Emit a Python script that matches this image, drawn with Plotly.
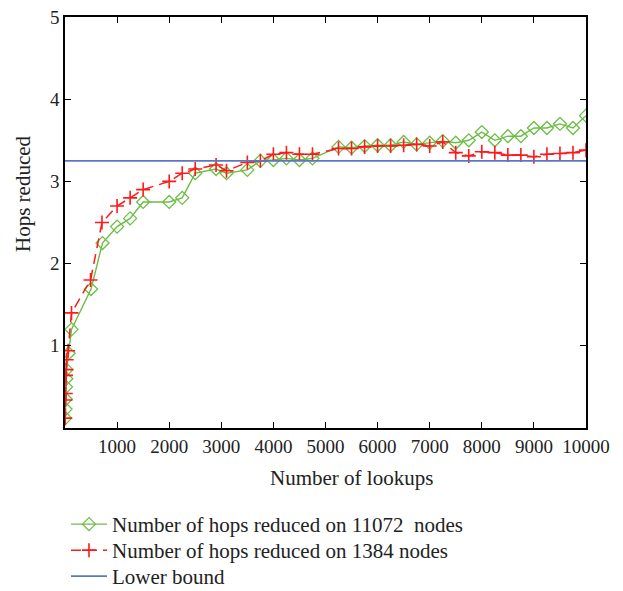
import plotly.graph_objects as go

# Data
x_11072 = [5, 10, 15, 20, 25, 30, 70, 125, 500, 720, 1000, 1250, 1500, 2000, 2250, 2500,
           2900, 3100, 3500, 3750, 4000, 4250, 4500, 4750, 5250, 5500, 5750, 6000, 6250,
           6500, 6750, 7000, 7250, 7500, 7750, 8000, 8250, 8500, 8750, 9000, 9250, 9500,
           9750, 10000]
y_11072 = [0.12, 0.23, 0.35, 0.50, 0.60, 0.71, 0.91, 1.20, 1.69, 2.25, 2.45, 2.55, 2.75, 2.75,
           2.80, 3.10, 3.15, 3.10, 3.14, 3.25, 3.26, 3.28, 3.26, 3.28, 3.42, 3.41, 3.43, 3.44,
           3.44, 3.48, 3.45, 3.47, 3.49, 3.47, 3.50, 3.60, 3.50, 3.55, 3.55, 3.65, 3.65, 3.70,
           3.65, 3.80]

x_1384 = [5, 10, 15, 20, 25, 30, 60, 125, 490, 710, 1000, 1250, 1500, 2000, 2250, 2500,
          2900, 3100, 3500, 3750, 4000, 4250, 4500, 4750, 5250, 5500, 5750, 6000, 6250,
          6500, 6750, 7000, 7250, 7500, 7750, 8000, 8250, 8500, 8750, 9000, 9250, 9500,
          9750, 10000]
y_1384 = [0.12, 0.34, 0.42, 0.64, 0.71, 0.83, 0.94, 1.40, 1.80, 2.50, 2.70, 2.80, 2.90, 3.00,
          3.10, 3.15, 3.20, 3.13, 3.23, 3.25, 3.33, 3.35, 3.33, 3.33, 3.40, 3.40, 3.42, 3.43,
          3.43, 3.44, 3.45, 3.43, 3.48, 3.35, 3.31, 3.36, 3.35, 3.32, 3.32, 3.30, 3.33, 3.34,
          3.35, 3.38]

lower_bound = 3.25
x_range = [0, 10000]
y_range = [0, 5]
x_ticks = [1000, 2000, 3000, 4000, 5000, 6000, 7000, 8000, 9000, 10000]
x_tick_labels = ["1000", "2000", "3000", "4000", "5000", "6000", "7000", "8000", "9000", "10000"]
y_ticks = [1, 2, 3, 4, 5]
y_tick_labels = ["1", "2", "3", "4", "5"]

FONT = "Liberation Serif"
TXT = "#222222"
GREEN = "#6cbd45"
RED = "#ff1a1a"
BLUE = "#5b76c2"

PLOT_L, PLOT_R, PLOT_T, PLOT_B = 65, 586, 17, 428
PW, PH = PLOT_R - PLOT_L, PLOT_B - PLOT_T


def px_x(px):
    return (px - PLOT_L) / PW


def px_y(py):
    return (PLOT_B - py) / PH


fig = go.Figure()
fig.add_trace(go.Scatter(
    x=x_11072, y=y_11072, mode="lines+markers",
    name="Number of hops reduced on 11072  nodes", legend="legend",
    line=dict(color=GREEN, width=1.4),
    marker=dict(symbol="diamond-open", size=10, color=GREEN, line=dict(width=1.3, color=GREEN)),
))
fig.add_trace(go.Scatter(
    x=x_1384, y=y_1384, mode="lines+markers",
    name="Number of hops reduced on 1384 nodes", legend="legend2",
    line=dict(color=RED, width=1.5, dash="10px,6px"),
    marker=dict(symbol="cross-thin-open", size=10, color=RED, line=dict(width=1.6, color=RED)),
))
fig.add_trace(go.Scatter(
    x=x_range, y=[lower_bound, lower_bound], mode="lines",
    name="Lower bound", legend="legend3",
    line=dict(color=BLUE, width=1.8),
))

legend_common = dict(
    xanchor="left", yanchor="top", font=dict(family=FONT, size=21, color=TXT),
    bgcolor="rgba(0,0,0,0)", itemwidth=36,
)

fig.update_layout(
    width=623, height=591,
    margin=dict(l=PLOT_L, r=623 - PLOT_R, t=PLOT_T, b=591 - PLOT_B, autoexpand=False),
    paper_bgcolor="white", plot_bgcolor="white",
    font=dict(family=FONT, size=19, color=TXT),
    showlegend=True,
    legend=dict(x=px_x(66), y=px_y(504), **legend_common),
    legend2=dict(x=px_x(66), y=px_y(530), **legend_common),
    legend3=dict(x=px_x(66), y=px_y(556), **legend_common),
    annotations=[
        dict(text="Number of lookups", xref="paper", yref="paper",
             x=px_x(351), y=px_y(478), xanchor="center", yanchor="middle",
             showarrow=False, font=dict(family=FONT, size=21, color=TXT)),
        dict(text="Hops reduced", xref="paper", yref="paper", textangle=-90,
             x=px_x(23), y=px_y(194), xanchor="center", yanchor="middle",
             showarrow=False, font=dict(family=FONT, size=21, color=TXT)),
    ],
)
fig.update_xaxes(
    range=x_range, tickvals=x_ticks, ticktext=x_tick_labels, ticks="inside", ticklen=6,
    tickwidth=1.2, tickcolor="black", showline=True, linecolor="black", linewidth=1.5,
    mirror="ticks", showgrid=False, zeroline=False, automargin=False,
    tickfont=dict(family=FONT, size=19, color=TXT),
)
fig.update_yaxes(
    range=y_range, tickvals=y_ticks, ticktext=y_tick_labels, ticks="inside", ticklen=6,
    tickwidth=1.2, tickcolor="black", showline=True, linecolor="black", linewidth=1.5,
    mirror="ticks", showgrid=False, zeroline=False, automargin=False,
    tickfont=dict(family=FONT, size=19, color=TXT),
)

fig.write_html(
    "out.html",
    config={"displayModeBar": False},
    post_script="document.body.style.margin='0px';document.body.style.overflow='hidden';",
)
